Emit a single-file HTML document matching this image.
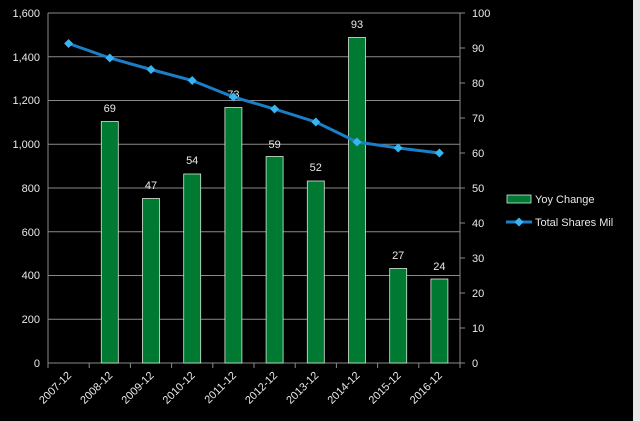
<!DOCTYPE html><html><head><style>body{margin:0;background:#000}svg{display:block}text{font-family:"Liberation Sans",sans-serif;fill:#e8e8e8;font-size:11px}</style></head><body>
<svg width="640" height="421" viewBox="0 0 640 421">
<rect width="640" height="421" fill="#000"/>
<rect x="633" y="0" width="7" height="421" fill="#e8e8e8"/>
<g stroke="#8a8a8a" stroke-width="1">
<line x1="48" y1="13" x2="460" y2="13"/><line x1="48" y1="56.75" x2="460" y2="56.75"/><line x1="48" y1="100.5" x2="460" y2="100.5"/><line x1="48" y1="144.25" x2="460" y2="144.25"/><line x1="48" y1="188" x2="460" y2="188"/><line x1="48" y1="231.75" x2="460" y2="231.75"/><line x1="48" y1="275.5" x2="460" y2="275.5"/><line x1="48" y1="319.25" x2="460" y2="319.25"/><line x1="48" y1="363" x2="460" y2="363"/>
<line x1="48" y1="13" x2="48" y2="367"/><line x1="460" y1="13" x2="460" y2="367"/>
</g>
<g stroke="#8a8a8a">
<line x1="48" y1="363" x2="48" y2="368"/><line x1="89.2" y1="363" x2="89.2" y2="368"/><line x1="130.4" y1="363" x2="130.4" y2="368"/><line x1="171.6" y1="363" x2="171.6" y2="368"/><line x1="212.8" y1="363" x2="212.8" y2="368"/><line x1="254" y1="363" x2="254" y2="368"/><line x1="295.2" y1="363" x2="295.2" y2="368"/><line x1="336.4" y1="363" x2="336.4" y2="368"/><line x1="377.6" y1="363" x2="377.6" y2="368"/><line x1="418.8" y1="363" x2="418.8" y2="368"/><line x1="460" y1="363" x2="460" y2="368"/>
<line x1="460" y1="13" x2="465" y2="13"/><line x1="460" y1="48" x2="465" y2="48"/><line x1="460" y1="83" x2="465" y2="83"/><line x1="460" y1="118" x2="465" y2="118"/><line x1="460" y1="153" x2="465" y2="153"/><line x1="460" y1="188" x2="465" y2="188"/><line x1="460" y1="223" x2="465" y2="223"/><line x1="460" y1="258" x2="465" y2="258"/><line x1="460" y1="293" x2="465" y2="293"/><line x1="460" y1="328" x2="465" y2="328"/><line x1="460" y1="363" x2="465" y2="363"/>
</g>
<g text-anchor="end">
<text x="40" y="17">1,600</text><text x="40" y="61">1,400</text><text x="40" y="104">1,200</text><text x="40" y="148">1,000</text><text x="40" y="192">800</text><text x="40" y="236">600</text><text x="40" y="279">400</text><text x="40" y="323">200</text><text x="40" y="367">0</text>
</g>
<g>
<text x="472" y="17">100</text><text x="472" y="52">90</text><text x="472" y="87">80</text><text x="472" y="122">70</text><text x="472" y="157">60</text><text x="472" y="192">50</text><text x="472" y="227">40</text><text x="472" y="262">30</text><text x="472" y="297">20</text><text x="472" y="332">10</text><text x="472" y="367">0</text>
</g>
<g fill="#007a33" stroke="#d8e8d8" stroke-width="0.8">
<rect x="101.3" y="121.5" width="17" height="241.5"/>
<rect x="142.5" y="198.5" width="17" height="164.5"/>
<rect x="183.7" y="174" width="17" height="189"/>
<rect x="224.9" y="107.5" width="17" height="255.5"/>
<rect x="266.1" y="156.5" width="17" height="206.5"/>
<rect x="307.3" y="181" width="17" height="182"/>
<rect x="348.5" y="37.5" width="17" height="325.5"/>
<rect x="389.7" y="268.5" width="17" height="94.5"/>
<rect x="430.9" y="279" width="17" height="84"/>
</g>
<g text-anchor="middle">
<text x="109.8" y="112">69</text><text x="151" y="189">47</text><text x="192.2" y="164">54</text><text x="233.4" y="98">73</text><text x="274.6" y="148">59</text><text x="315.8" y="171">52</text><text x="357" y="28">93</text><text x="398.2" y="259">27</text><text x="439.4" y="270">24</text>
</g>
<polyline fill="none" stroke="#1b7fc8" stroke-width="3" points="68.6,43.5 109.8,58 151,69.5 192.2,80.5 233.4,97 274.6,109 315.8,122 357,142 398.2,148 439.4,153"/>
<g fill="#3ab4f0">
<path d="M68.6,39 l4.5,4.5 -4.5,4.5 -4.5,-4.5z"/><path d="M109.8,53.5 l4.5,4.5 -4.5,4.5 -4.5,-4.5z"/><path d="M151,65 l4.5,4.5 -4.5,4.5 -4.5,-4.5z"/><path d="M192.2,76 l4.5,4.5 -4.5,4.5 -4.5,-4.5z"/><path d="M233.4,92.5 l4.5,4.5 -4.5,4.5 -4.5,-4.5z"/><path d="M274.6,104.5 l4.5,4.5 -4.5,4.5 -4.5,-4.5z"/><path d="M315.8,117.5 l4.5,4.5 -4.5,4.5 -4.5,-4.5z"/><path d="M357,137.5 l4.5,4.5 -4.5,4.5 -4.5,-4.5z"/><path d="M398.2,143.5 l4.5,4.5 -4.5,4.5 -4.5,-4.5z"/><path d="M439.4,148.5 l4.5,4.5 -4.5,4.5 -4.5,-4.5z"/>
</g>
<g text-anchor="end">
<text transform="translate(72,376) rotate(-45)">2007-12</text><text transform="translate(113.2,376) rotate(-45)">2008-12</text><text transform="translate(154.4,376) rotate(-45)">2009-12</text><text transform="translate(195.6,376) rotate(-45)">2010-12</text><text transform="translate(236.8,376) rotate(-45)">2011-12</text><text transform="translate(278,376) rotate(-45)">2012-12</text><text transform="translate(319.2,376) rotate(-45)">2013-12</text><text transform="translate(360.4,376) rotate(-45)">2014-12</text><text transform="translate(401.6,376) rotate(-45)">2015-12</text><text transform="translate(442.8,376) rotate(-45)">2016-12</text>
</g>
<rect x="507" y="195" width="24" height="8" fill="#007a33" stroke="#d8e8d8" stroke-width="0.8"/>
<text x="535" y="203">Yoy Change</text>
<line x1="506" y1="222" x2="532" y2="222" stroke="#1b7fc8" stroke-width="3"/>
<path d="M519,217.5 l4.5,4.5 -4.5,4.5 -4.5,-4.5z" fill="#3ab4f0"/>
<text x="535" y="226">Total Shares Mil</text>
</svg>
</body></html>
